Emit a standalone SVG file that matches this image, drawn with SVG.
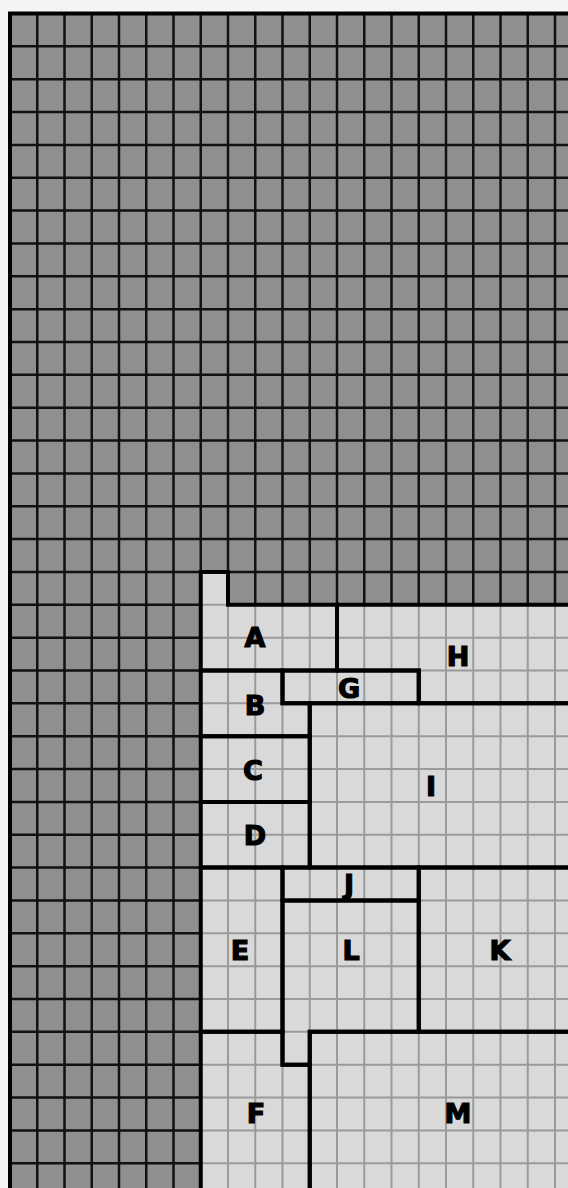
<svg xmlns="http://www.w3.org/2000/svg" width="568" height="1188" viewBox="0 0 568 1188">
<style>
.dk{stroke:#111;stroke-width:2.5;fill:none}
.lt{stroke:#9a9a9a;stroke-width:2;fill:none}
.rg{fill:none;stroke:#000;stroke-width:4;stroke-linejoin:miter}
.lb{font-family:"DejaVu Sans","Liberation Sans",sans-serif;font-weight:bold;font-size:27px;fill:#000;stroke:#000;stroke-width:1.2;text-anchor:middle}
</style>
<defs>
<clipPath id="lightClip"><path d="M200.75 571.95H228V604.8H568V1188H200.75Z"/></clipPath>
<path id="gridV" d="M37.25 13.5V1188M64.5 13.5V1188M91.75 13.5V1188M119 13.5V1188M146.25 13.5V1188M173.5 13.5V1188M200.75 13.5V1188M228 13.5V1188M255.25 13.5V1188M282.5 13.5V1188M309.75 13.5V1188M337 13.5V1188M364.25 13.5V1188M391.5 13.5V1188M418.75 13.5V1188M446 13.5V1188M473.25 13.5V1188M500.5 13.5V1188M527.75 13.5V1188M555 13.5V1188"/>
<path id="gridH" d="M10 46.35H568M10 79.2H568M10 112.05H568M10 144.9H568M10 177.75H568M10 210.6H568M10 243.45H568M10 276.3H568M10 309.15H568M10 342H568M10 374.85H568M10 407.7H568M10 440.55H568M10 473.4H568M10 506.25H568M10 539.1H568M10 571.95H568M10 604.8H568M10 637.65H568M10 670.5H568M10 703.35H568M10 736.2H568M10 769.05H568M10 801.9H568M10 834.75H568M10 867.6H568M10 900.45H568M10 933.3H568M10 966.15H568M10 999H568M10 1031.85H568M10 1064.7H568M10 1097.55H568M10 1130.4H568M10 1163.25H568"/>
</defs>
<rect x="0" y="0" width="568" height="1188" fill="#f4f4f4"/>
<g id="background-grid">
<rect x="10" y="13.5" width="570" height="1180" fill="#8f8f8f"/>
<use href="#gridV" class="dk"/>
<use href="#gridH" class="dk"/>
<path d="M10 1188V13.5H568" fill="none" stroke="#000" stroke-width="4"/>
</g>
<g id="light-area">
<path d="M200.75 571.95H228V604.8H568V1188H200.75Z" fill="#d9d9d9"/>
<g clip-path="url(#lightClip)">
<use href="#gridV" class="lt"/>
<use href="#gridH" class="lt"/>
</g>
</g>
<g id="A"><path class="rg" d="M200.75 571.95H228V604.8H337V670.5H200.75Z"/><text class="lb" x="255" y="647">A</text></g>
<g id="H"><path class="rg" d="M337 604.8H570V703.35H418.75V670.5H337Z"/><text class="lb" x="458" y="666">H</text></g>
<g id="G"><path class="rg" d="M282.5 670.5H418.75V703.35H282.5Z"/><text class="lb" x="349" y="698">G</text></g>
<g id="B"><path class="rg" d="M200.75 670.5H282.5V703.35H309.75V736.2H200.75Z"/><text class="lb" x="255" y="715">B</text></g>
<g id="C"><path class="rg" d="M200.75 736.2H309.75V801.9H200.75Z"/><text class="lb" x="253" y="780">C</text></g>
<g id="D"><path class="rg" d="M200.75 801.9H309.75V867.6H200.75Z"/><text class="lb" x="255" y="845">D</text></g>
<g id="I"><path class="rg" d="M309.75 703.35H570V867.6H309.75Z"/><text class="lb" x="431" y="796">I</text></g>
<g id="J"><path class="rg" d="M282.5 867.6H418.75V900.45H282.5Z"/><text class="lb" x="349" y="894">J</text></g>
<g id="E"><path class="rg" d="M200.75 867.6H282.5V1031.85H200.75Z"/><text class="lb" x="240" y="960">E</text></g>
<g id="L"><path class="rg" d="M282.5 900.45H418.75V1031.85H309.75V1064.7H282.5Z"/><text class="lb" x="351" y="960">L</text></g>
<g id="K"><path class="rg" d="M418.75 867.6H570V1031.85H418.75Z"/><text class="lb" x="500" y="960">K</text></g>
<g id="F"><path class="rg" d="M200.75 1031.85H282.5V1064.7H309.75V1190H200.75Z"/><text class="lb" x="256" y="1123">F</text></g>
<g id="M"><path class="rg" d="M309.75 1031.85H570V1190H309.75Z"/><text class="lb" x="458" y="1123">M</text></g>
<g id="connectors"/>
</svg>
